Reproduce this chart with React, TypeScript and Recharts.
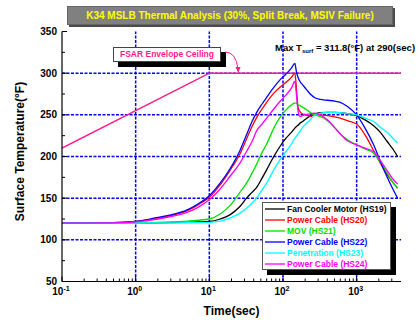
import React from "react";
import { Legend, Line, LineChart, ReferenceLine, XAxis, YAxis } from "recharts";

const font = "'Liberation Sans', Arial, sans-serif";

// time grid (sec) shared by all heat structures
const timeSec = [
  0.1, 0.5, 1, 2, 3, 5, 7, 10, 14, 19, 26, 32, 38, 44, 52, 60, 75, 91, 110, 130,
  145, 152, 160, 170, 185, 210, 240, 270, 320, 400, 500, 600, 750, 1000, 1300,
  1700, 2100, 2600, 3100, 3600,
];

// surface temperatures (F)
const hs19 = [
  120, 120.1, 120.3, 120.5, 120.7, 121, 121.4, 122, 125, 130, 140, 150, 157, 163,
  174, 184, 200, 212, 222, 229, 234, 236, 237.5, 240, 242, 246, 249, 251, 252.5,
  253, 253, 252.5, 251.5, 249, 244, 237, 229, 218, 209, 200,
];
const hs20 = [
  120, 120.5, 122, 126, 129, 135, 142, 151, 166, 183, 203, 221, 236, 247, 257,
  265, 276, 283, 289, 295, 300, 283, 259, 254, 251, 250, 248, 251, 250, 249,
  247.5, 246, 243, 239, 226, 207, 192, 178, 169, 162,
];
const hs21 = [
  120, 120, 120.5, 121, 121.5, 122.5, 123.5, 125, 131, 141, 157, 168, 180, 191,
  205, 215, 234, 247, 256, 262, 264, 264, 262, 261, 259, 256, 252, 250, 248, 243,
  235, 227, 220, 214, 209, 204, 193, 180, 169, 162,
];
const hs22 = [
  120, 120.5, 122, 127, 130, 136, 143, 153, 168, 185, 207, 226, 242, 253, 263,
  271, 283, 292, 299, 306, 311.8, 302, 295, 290, 286, 280, 274, 270.5, 268.5,
  267.5, 266.5, 265, 260, 250, 234, 214, 194, 175, 161, 150,
];
const hs23 = [
  120, 120, 120.2, 120.3, 120.4, 120.5, 120.7, 121, 122.5, 126, 132, 138, 144,
  150, 160, 168, 184, 196, 206, 215, 222, 224, 227, 230, 235, 240, 245, 249.5,
  252, 253, 253, 252.5, 251.5, 250, 246, 242, 235, 229, 222, 216,
];
const hs24 = [
  120, 120.3, 121.5, 125, 128, 133, 139, 148, 161, 176, 192, 206, 218, 231, 239,
  246, 257, 266, 274, 282, 290, 275, 255, 248, 249, 250.5, 251.5, 252, 250, 244,
  235, 227, 219, 214, 210, 206, 195, 183, 173, 167,
];

// FSAR envelope ceiling
const fsarTime = [0.1, 10, 4000];
const fsarTemp = [210, 300, 300];

const seriesNames = [
  "Fan Cooler Motor (HS19)",
  "Power Cable (HS20)",
  "MOV (HS21)",
  "Power Cable (HS22)",
  "Penetration (HS23)",
  "Power Cable (HS24)",
];
const seriesKeys = ["hs19", "hs20", "hs21", "hs22", "hs23", "hs24"];
const seriesValues = [hs19, hs20, hs21, hs22, hs23, hs24];
const seriesColors = ["#000000", "#ff0000", "#00e000", "#0000ff", "#00ffff", "#ff00ff"];

const xMajor = [0.1, 1, 10, 100, 1000];
const xExp = ["-1", "0", "1", "2", "3"];
const xTicks = [
  0.1, 0.2, 0.3, 0.4, 0.5, 0.6, 0.7, 0.8, 0.9, 1, 2, 3, 4, 5, 6, 7, 8, 9, 10, 20,
  30, 40, 50, 60, 70, 80, 90, 100, 200, 300, 400, 500, 600, 700, 800, 900, 1000,
  2000, 3000,
];
const xGrid = [1, 10, 100, 1000];
const yTicks = [50, 75, 100, 125, 150, 175, 200, 225, 250, 275, 300, 325, 350];
const yGrid = [100, 150, 200, 250, 300];

const rows = timeSec.map((t, i) => {
  const r: Record<string, number> = { t };
  seriesKeys.forEach((k, j) => (r[k] = seriesValues[j][i]));
  return r;
});
const fsarRows = fsarTime.map((t, i) => ({ t, v: fsarTemp[i] }));

const BottomTick = (p: any) => {
  const v = p.payload.value;
  const idx = xMajor.indexOf(v);
  const major = idx >= 0;
  return (
    <g>
      <line x1={p.x} y1={p.y} x2={p.x} y2={p.y - (major ? 5 : 3)} stroke="#000" />
      {major && (
        <text x={p.x - 1} y={p.y + 13.5} textAnchor="middle" fontSize={10} fontWeight="bold" fontFamily={font} fill="#000">
          10
          <tspan dy={-4} fontSize={7}>
            {xExp[idx]}
          </tspan>
        </text>
      )}
    </g>
  );
};

const TopTick = (p: any) => {
  const major = xMajor.indexOf(p.payload.value) >= 0;
  return <line x1={p.x} y1={p.y} x2={p.x} y2={p.y + (major ? 5 : 3)} stroke="#000" />;
};

const LeftTick = (p: any) => {
  const v = p.payload.value;
  const major = v % 50 === 0;
  return (
    <g>
      <line x1={p.x} y1={p.y} x2={p.x + (major ? 5 : 3)} y2={p.y} stroke="#000" />
      {major && (
        <text x={p.x - 5} y={p.y} dy="0.36em" textAnchor="end" fontSize={10} fontWeight="bold" fontFamily={font} fill="#000">
          {v}
        </text>
      )}
    </g>
  );
};

const RightTick = (p: any) => {
  const major = p.payload.value % 50 === 0;
  return <line x1={p.x} y1={p.y} x2={p.x - (major ? 5 : 3)} y2={p.y} stroke="#000" />;
};

const LegendBox = () => (
  <div
    style={{
      border: "1px solid #555",
      background: "#fff",
      boxShadow: "5px 5px 0 #000",
      padding: "0 2px 0 2px",
      width: 123,
      fontFamily: font,
    }}
  >
    {seriesNames.map((n, i) => (
      <div key={n} style={{ display: "flex", alignItems: "center", height: 11 }}>
        <svg width={22} height={4} style={{ flex: "none" }}>
          <line x1={0} y1={2} x2={20} y2={2} stroke={seriesColors[i]} strokeWidth={1.3} />
        </svg>
        <span style={{ fontSize: 8.5, fontWeight: "bold", color: seriesColors[i], whiteSpace: "nowrap" }}>{n}</span>
      </div>
    ))}
  </div>
);

export default function App() {
  return (
    <div style={{ position: "absolute", left: 0, top: 0, width: 420, height: 320, background: "#fff", fontFamily: font }}>
      <LineChart width={420} height={320} margin={{ top: 31.5, right: 19, bottom: 0, left: 0 }}>
        <XAxis
          dataKey="t"
          type="number"
          scale="log"
          domain={[0.1, 4000]}
          allowDataOverflow
          ticks={xTicks}
          interval={0}
          tickSize={0}
          tickMargin={0}
          tickLine={false}
          tick={<BottomTick />}
          height={38.5}
          axisLine={{ stroke: "#000", strokeWidth: 1.2 }}
          label={(lp: any) => (
            <text
              x={lp.viewBox.x + lp.viewBox.width / 2}
              y={lp.viewBox.y + 33}
              textAnchor="middle"
              fontSize={12}
              fontWeight="bold"
              fontFamily={font}
            >
              Time(sec)
            </text>
          )}
        />
        <XAxis
          xAxisId="top"
          orientation="top"
          type="number"
          scale="log"
          domain={[0.1, 4000]}
          allowDataOverflow
          ticks={xTicks}
          interval={0}
          tickSize={0}
          tickMargin={0}
          tickLine={false}
          tick={<TopTick />}
          height={0}
          axisLine={{ stroke: "#000", strokeWidth: 1.2 }}
        />
        <YAxis
          type="number"
          domain={[50, 350]}
          ticks={yTicks}
          interval={0}
          width={62}
          tickSize={0}
          tickMargin={0}
          tickLine={false}
          tick={<LeftTick />}
          axisLine={{ stroke: "#000", strokeWidth: 1.2 }}
          label={(lp: any) => {
            const cx = lp.viewBox.x + 20;
            const cy = lp.viewBox.y + lp.viewBox.height / 2 - 5;
            return (
              <text
                x={cx}
                y={cy}
                transform={`rotate(-90 ${cx} ${cy})`}
                textAnchor="middle"
                dominantBaseline="central"
                fontSize={12}
                fontWeight="bold"
                fontFamily={font}
              >
                Surface Temperature(°F)
              </text>
            );
          }}
        />
        <YAxis
          yAxisId="right"
          orientation="right"
          type="number"
          domain={[50, 350]}
          ticks={yTicks}
          interval={0}
          width={0}
          tickSize={0}
          tickMargin={0}
          tickLine={false}
          tick={<RightTick />}
          axisLine={{ stroke: "#000", strokeWidth: 1.2 }}
        />
        {xGrid.map((v) => (
          <ReferenceLine key={"gx" + v} x={v} stroke="#0000ff" strokeWidth={1.5} strokeDasharray="3 1.5" />
        ))}
        {yGrid.map((v) => (
          <ReferenceLine key={"gy" + v} y={v} stroke="#0000ff" strokeWidth={1.5} strokeDasharray="3 1.5" />
        ))}
        <Line
          data={fsarRows}
          dataKey="v"
          type="linear"
          stroke="#ff1a8c"
          strokeWidth={1.5}
          dot={false}
          legendType="none"
          isAnimationActive={false}
        />
        {seriesKeys.map((k, i) => (
          <Line
            key={k}
            data={rows}
            dataKey={k}
            name={seriesNames[i]}
            type="monotone"
            stroke={seriesColors[i]}
            strokeWidth={1.3}
            dot={false}
            isAnimationActive={false}
          />
        ))}
        <Legend
          layout="vertical"
          align="center"
          verticalAlign="middle"
          wrapperStyle={{ left: 262, top: 202, width: "auto", height: "auto" }}
          content={() => <LegendBox />}
        />
      </LineChart>

      <div
        style={{
          position: "absolute",
          left: 67,
          top: 6,
          width: 324,
          height: 17,
          background: "#808080",
          border: "1px solid #666",
          boxShadow: "2px 2px 0 #4a4a4a",
          color: "#ffff00",
          fontSize: 10,
          fontWeight: "bold",
          lineHeight: "17px",
          textAlign: "center",
          whiteSpace: "nowrap",
        }}
      >
        K34 MSLB Thermal Analysis (30%, Split Break, MSIV Failure)
      </div>

      <div
        style={{
          position: "absolute",
          left: 275,
          top: 41,
          fontSize: 9.5,
          fontWeight: "bold",
          whiteSpace: "nowrap",
          lineHeight: "13px",
        }}
      >
        Max T<sub style={{ fontSize: 6, verticalAlign: "-2px" }}>surf</sub> = 311.8(°F) at 290(sec)
      </div>

      <div
        style={{
          position: "absolute",
          left: 113,
          top: 47,
          width: 106,
          height: 13,
          border: "1px solid #444",
          background: "#fff",
          boxShadow: "5px 5px 0 #000",
          color: "#ff1a8c",
          fontSize: 8.5,
          fontWeight: "bold",
          lineHeight: "13px",
          textAlign: "center",
          whiteSpace: "nowrap",
        }}
      >
        FSAR Envelope Ceiling
      </div>

      <svg width={420} height={320} style={{ position: "absolute", left: 0, top: 0, pointerEvents: "none" }}>
        <path d="M 225 52 Q 236 52 238 69" stroke="#ff1a8c" strokeWidth={1} fill="none" />
        <polygon points="235.5,67 240.5,67 238.3,73" fill="#ff1a8c" />
      </svg>
    </div>
  );
}
